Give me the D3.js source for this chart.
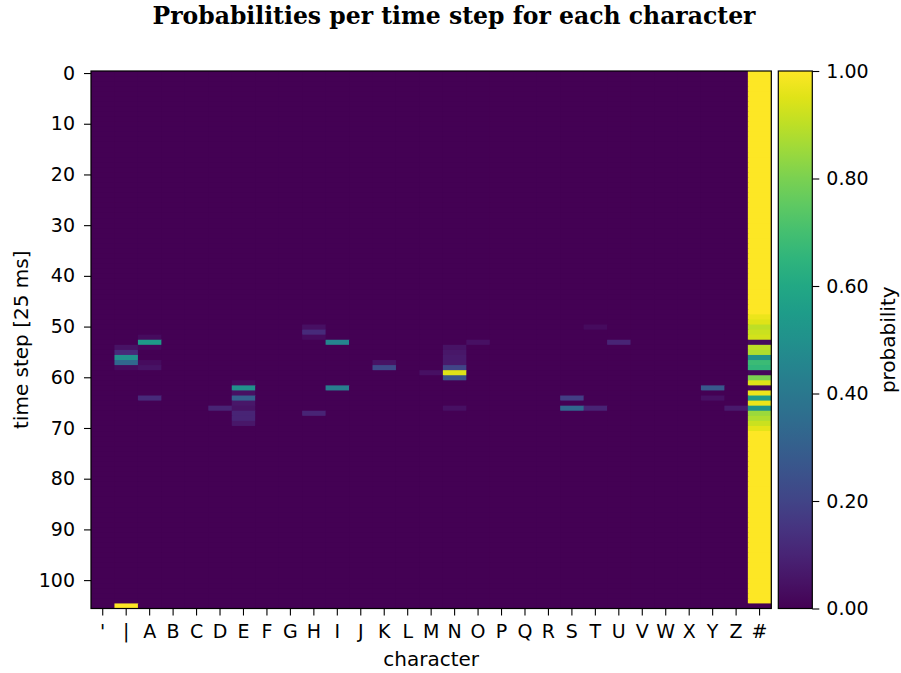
<!DOCTYPE html>
<html>
<head>
<meta charset="utf-8">
<script src="https://cdn.jsdelivr.net/npm/d3@7"></script>
<style>
  body { margin: 0; background: #fff; }
  text { font-family: "DejaVu Sans", sans-serif; fill: #000; }
</style>
</head>
<body>
<div class="canvas"></div>
<script>
// data
const characters = ["'", "|", "A", "B", "C", "D", "E", "F", "G", "H", "I", "J", "K", "L", "M",
  "N", "O", "P", "Q", "R", "S", "T", "U", "V", "W", "X", "Y", "Z", "#"];
const timeSteps = d3.range(0, 106);
const yTicks = [0, 10, 20, 30, 40, 50, 60, 70, 80, 90, 100];
const cbTicks = [0, 0.2, 0.4, 0.6, 0.8, 1.0];

// probabilities of the blank '#' symbol, one per time step
const hashProbs = [
  1, 1, 1, 1, 1, 1, 1, 1, 1, 1,
  1, 1, 1, 1, 1, 1, 1, 1, 1, 1,
  1, 1, 1, 1, 1, 1, 1, 1, 1, 1,
  1, 1, 1, 1, 1, 1, 1, 1, 1, 1,
  1, 1, 1, 1, 1, 1, 1, 1, 0.97, 0.95,
  0.9, 0.92, 0.93, 0.03, 0.9, 0.88, 0.5, 0.68, 0.66, 0.02,
  0.8, 0.95, 0.02, 0.97, 0.55, 0.97, 0.52, 0.85, 0.88, 0.92,
  0.96, 1, 1, 1, 1, 1, 1, 1, 1, 1,
  1, 1, 1, 1, 1, 1, 1, 1, 1, 1,
  1, 1, 1, 1, 1, 1, 1, 1, 1, 1,
  1, 1, 1, 1, 1, 0
];

// other non-zero cells: [character, time step, probability]
const peaks = [
  ["|", 54, 0.05], ["|", 55, 0.12], ["|", 56, 0.5], ["|", 57, 0.33], ["|", 58, 0.03], ["|", 105, 1.0],
  ["A", 52, 0.03], ["A", 53, 0.55], ["A", 54, 0.02], ["A", 57, 0.03], ["A", 58, 0.05], ["A", 64, 0.12],
  ["D", 66, 0.1],
  ["E", 61, 0.03], ["E", 62, 0.5], ["E", 63, 0.04], ["E", 64, 0.3], ["E", 65, 0.06],
  ["E", 66, 0.05], ["E", 67, 0.1], ["E", 68, 0.1], ["E", 69, 0.06],
  ["H", 50, 0.04], ["H", 51, 0.12], ["H", 52, 0.03], ["H", 67, 0.1],
  ["I", 53, 0.45], ["I", 62, 0.42],
  ["K", 57, 0.05], ["K", 58, 0.22],
  ["M", 59, 0.04],
  ["N", 54, 0.05], ["N", 55, 0.06], ["N", 56, 0.07], ["N", 57, 0.07], ["N", 58, 0.2],
  ["N", 59, 0.95], ["N", 60, 0.25], ["N", 66, 0.04],
  ["O", 53, 0.04],
  ["S", 64, 0.18], ["S", 66, 0.33],
  ["T", 50, 0.03], ["T", 66, 0.1],
  ["U", 53, 0.1],
  ["Y", 62, 0.27], ["Y", 64, 0.04],
  ["Z", 66, 0.07]
];

// build the grid
const cells = [];
timeSteps.forEach(t => {
  characters.forEach(c => {
    cells.push({ c: c, t: t, p: c === "#" ? hashProbs[t] : 0 });
  });
});
peaks.forEach(([c, t, p]) => {
  const cell = cells.find(d => d.c === c && d.t === t);
  cell.p = p;
});

// layout
const width = 901, height = 673;
const plot = { left: 91, right: 771.3, top: 71, bottom: 608.5 };
const cb = { left: 778.3, right: 812.3 };
const fontSize = 19;

const svg = d3.select('.canvas')
  .append('svg')
  .attr('width', width)
  .attr('height', height);

// scales
const x = d3.scaleBand().domain(characters).range([plot.left, plot.right]);
const y = d3.scaleBand().domain(timeSteps).range([plot.top, plot.bottom]);
const color = d3.scaleSequential(d3.interpolateViridis).domain([0, 1]);

// heatmap
svg.append('rect')
  .attr('x', plot.left).attr('y', plot.top)
  .attr('width', plot.right - plot.left).attr('height', plot.bottom - plot.top)
  .attr('fill', color(0));

svg.append('g')
  .selectAll('rect')
  .data(cells)
  .enter()
  .append('rect')
    .attr('x', d => x(d.c))
    .attr('y', d => y(d.t))
    .attr('width', d => d.c === '#' ? x.bandwidth() : x.bandwidth() + 0.6)
    .attr('height', d => d.t === 105 ? y.bandwidth() : y.bandwidth() + 1)
    .attr('fill', d => color(d.p));

// frame
svg.append('rect')
  .attr('x', plot.left).attr('y', plot.top)
  .attr('width', plot.right - plot.left).attr('height', plot.bottom - plot.top)
  .attr('fill', 'none').attr('stroke', '#000').attr('stroke-width', 1.2);

// axes
const xAxis = d3.axisBottom(x).tickSize(7).tickPadding(9);
const yAxis = d3.axisLeft(y).tickValues(yTicks).tickSize(7).tickPadding(9);

const xAxisGroup = svg.append('g')
  .attr('transform', `translate(0, ${plot.bottom})`)
  .call(xAxis);
const yAxisGroup = svg.append('g')
  .attr('transform', `translate(${plot.left}, 0)`)
  .call(yAxis);

[xAxisGroup, yAxisGroup].forEach(g => {
  g.select('.domain').remove();
  g.selectAll('line').attr('stroke', '#000').attr('stroke-width', 1.1);
  g.selectAll('text').attr('font-size', fontSize).attr('font-family', '"DejaVu Sans", sans-serif').attr('fill', '#000');
});

// colorbar
const cy = d3.scaleLinear().domain([0, 1]).range([plot.bottom, plot.top]);
const defs = svg.append('defs');
const grad = defs.append('linearGradient')
  .attr('id', 'viridis')
  .attr('x1', 0).attr('y1', 1).attr('x2', 0).attr('y2', 0);
d3.range(0, 1.0001, 0.05).forEach(v => {
  grad.append('stop').attr('offset', v).attr('stop-color', color(v));
});
svg.append('rect')
  .attr('x', cb.left).attr('y', plot.top)
  .attr('width', cb.right - cb.left).attr('height', plot.bottom - plot.top)
  .attr('fill', 'url(#viridis)')
  .attr('stroke', '#000').attr('stroke-width', 1.2);

const cbAxis = d3.axisRight(cy).tickValues(cbTicks).tickFormat(d3.format('.2f')).tickSize(7).tickPadding(7);
const cbGroup = svg.append('g')
  .attr('transform', `translate(${cb.right}, 0)`)
  .call(cbAxis);
cbGroup.select('.domain').remove();
cbGroup.selectAll('line').attr('stroke', '#000').attr('stroke-width', 1.1);
cbGroup.selectAll('text').attr('font-size', fontSize).attr('font-family', '"DejaVu Sans", sans-serif').attr('fill', '#000');

// labels
svg.append('text')
  .attr('x', (plot.left + plot.right) / 2)
  .attr('y', 666)
  .attr('text-anchor', 'middle')
  .attr('font-size', 20)
  .text('character');

svg.append('text')
  .attr('transform', `translate(28, ${(plot.top + plot.bottom) / 2}) rotate(-90)`)
  .attr('text-anchor', 'middle')
  .attr('font-size', 20)
  .text('time step [25 ms]');

svg.append('text')
  .attr('transform', `translate(895, ${(plot.top + plot.bottom) / 2}) rotate(-90)`)
  .attr('text-anchor', 'middle')
  .attr('font-size', 20)
  .text('probability');

// title
svg.append('text')
  .attr('x', 454)
  .attr('y', 24)
  .attr('text-anchor', 'middle')
  .style('font-family', '"DejaVu Serif", serif')
  .style('font-weight', 'bold')
  .attr('font-size', 23.5)
  .text('Probabilities per time step for each character');
</script>
</body>
</html>
